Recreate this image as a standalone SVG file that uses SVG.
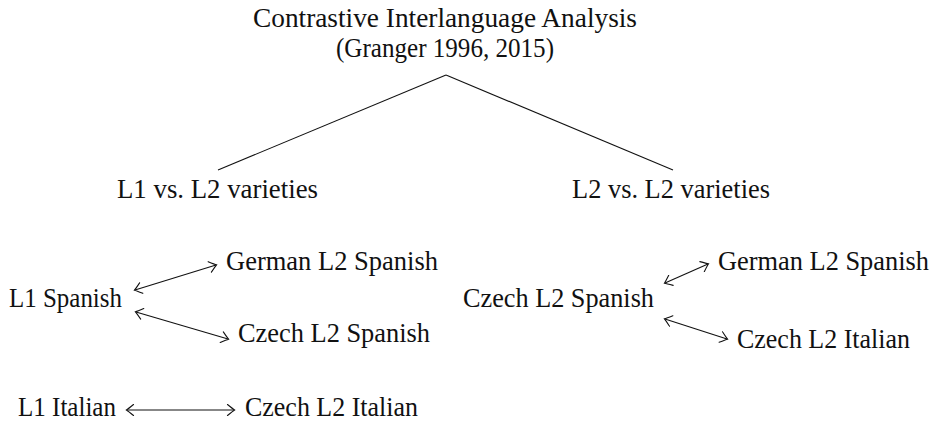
<svg xmlns="http://www.w3.org/2000/svg" width="939" height="427" viewBox="0 0 939 427">
  <style>
    text { font-family: "Liberation Serif", "DejaVu Serif", serif; font-size: 26.5px; fill: #111; }
    .mid { text-anchor: middle; }
    .edge { stroke: #111; stroke-width: 1.1; fill: none; }
    .arr { stroke: #111; stroke-width: 1.1; fill: none; marker-start: url(#tip); marker-end: url(#tip); }
  </style>
  <defs>
    <!-- curved open arrow tip, auto-start-reverse so both ends point outward -->
    <marker id="tip" viewBox="-8 -6 10 12" markerWidth="10" markerHeight="12" refX="0" refY="0" orient="auto-start-reverse" markerUnits="userSpaceOnUse">
      <path d="M -6.5 -5.5 Q -1 -1 0.6 0 Q -1 1 -6.5 5.5" fill="none" stroke="#111" stroke-width="1.1" stroke-linecap="round"/>
    </marker>
  </defs>

  <g id="connectors">
    <path class="edge" d="M 446 75 L 218 170"/>
    <path class="edge" d="M 446 75 L 673 170"/>
    <path class="arr" d="M 135 290 L 216 265"/>
    <path class="arr" d="M 136 312 L 228 339"/>
    <path class="arr" d="M 665 283 L 708 264"/>
    <path class="arr" d="M 665 319 L 727 339"/>
    <path class="arr" d="M 127 410 L 234 410"/>
  </g>

  <g id="root">
    <text class="mid" x="445" y="27" textLength="384" lengthAdjust="spacingAndGlyphs">Contrastive Interlanguage Analysis</text>
    <text class="mid" x="445" y="57" textLength="218" lengthAdjust="spacingAndGlyphs">(Granger 1996, 2015)</text>
  </g>
  <g id="l1-vs-l2">
    <text x="117" y="198" textLength="201" lengthAdjust="spacingAndGlyphs">L1 vs. L2 varieties</text>
  </g>
  <g id="l2-vs-l2">
    <text x="572" y="198" textLength="198" lengthAdjust="spacingAndGlyphs">L2 vs. L2 varieties</text>
  </g>
  <g id="l1-spanish">
    <text x="9" y="307" textLength="113" lengthAdjust="spacingAndGlyphs">L1 Spanish</text>
  </g>
  <g id="german-l2-spanish-a">
    <text x="226" y="270" textLength="212" lengthAdjust="spacingAndGlyphs">German L2 Spanish</text>
  </g>
  <g id="czech-l2-spanish-a">
    <text x="238" y="342" textLength="192" lengthAdjust="spacingAndGlyphs">Czech L2 Spanish</text>
  </g>
  <g id="czech-l2-spanish-b">
    <text x="463" y="307" textLength="191" lengthAdjust="spacingAndGlyphs">Czech L2 Spanish</text>
  </g>
  <g id="german-l2-spanish-b">
    <text x="718" y="270" textLength="211" lengthAdjust="spacingAndGlyphs">German L2 Spanish</text>
  </g>
  <g id="czech-l2-italian-b">
    <text x="737" y="348" textLength="173" lengthAdjust="spacingAndGlyphs">Czech L2 Italian</text>
  </g>
  <g id="l1-italian">
    <text x="18" y="416" textLength="98" lengthAdjust="spacingAndGlyphs">L1 Italian</text>
  </g>
  <g id="czech-l2-italian-a">
    <text x="245" y="416" textLength="173" lengthAdjust="spacingAndGlyphs">Czech L2 Italian</text>
  </g>
</svg>
